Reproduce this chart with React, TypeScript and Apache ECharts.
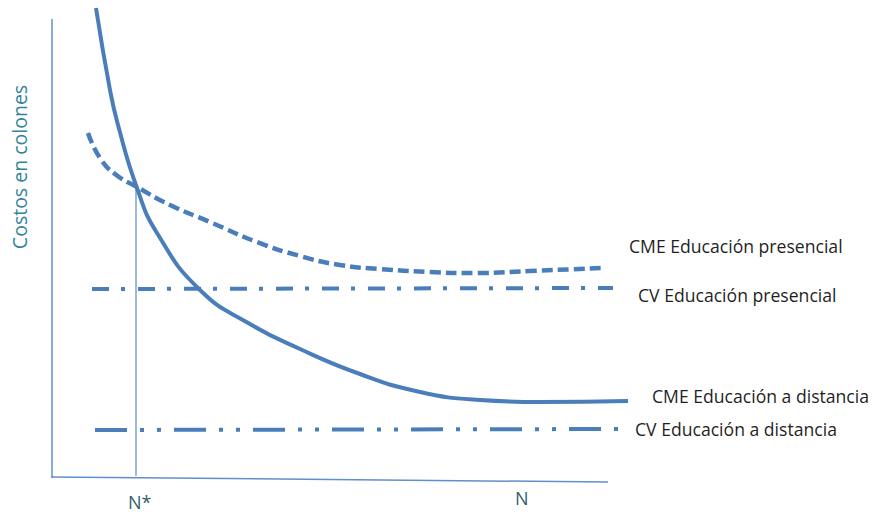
import React, { useEffect, useRef } from "react";
import * as echarts from "echarts";

// Coordinates: N along the horizontal axis, cost along the vertical axis (arbitrary units)
const cmeDistancia: [number, number][] = [
  [44, 471], [58, 389], [66, 354], [85, 291], [105, 246], [148, 189],
  [198, 155], [248, 130], [308, 105], [368, 87], [428, 79], [488, 77], [576, 78],
];
const cmePresencial: [number, number][] = [
  [36, 346], [48, 321], [63, 305], [85, 292], [118, 274], [158, 257],
  [205, 237], [248, 223], [288, 214], [328, 210], [378, 207], [425, 206],
  [478, 208], [550, 211],
];
const cvPresencial: [number, number][] = [[40, 190], [561, 191]];
const cvDistancia: [number, number][] = [[43, 49], [566, 50]];
const nStarLine: [number, number][] = [[84, 291], [84, 3]];
const yAxisLine: [number, number][] = [[0, 460], [0, 1]];
const xAxisLine: [number, number][] = [[-6, 2], [556, -3]];

const labels = [
  "CME Educación presencial",
  "CV Educación presencial",
  "CME Educación a distancia",
  "CV Educación a distancia",
];
const axisTitle = "Costos en colones";
const tickLabels = ["N*", "N"];

const BLUE = "#4a7ebb";
const AXIS = "#5f8fd0";
const FONT = "Open Sans";
const LABEL_FONT = `17.6px '${FONT}'`;

export default function App() {
  const ref = useRef<HTMLDivElement>(null);
  useEffect(() => {
    if (!ref.current) return;
    const chart = echarts.init(ref.current, undefined, { renderer: "svg" });
    const line = (data: [number, number][], width: number, type: any, color = BLUE, smooth: any = false) => ({
      type: "line",
      data,
      smooth,
      symbol: "none",
      clip: false,
      silent: true,
      lineStyle: { width, type, color, cap: "butt" },
    });
    const lbl = (left: number, y: number, text: string) => ({
      type: "text", left, top: y - 11,
      style: { text, font: LABEL_FONT, fill: "#1f1f1f" },
    });
    chart.setOption({
      animation: false,
      grid: { left: 52, right: 236, top: 4, bottom: 34 },
      xAxis: { type: "value", min: 0, max: 588, show: false },
      yAxis: { type: "value", min: 0, max: 475, show: false },
      series: [
        line(yAxisLine, 1.5, "solid", AXIS),
        line(xAxisLine, 1.5, "solid", AXIS),
        line(nStarLine, 1.5, "solid", "#7ba3d8"),
        line(cvPresencial, 4, [17, 12, 4, 13]),
        line(cvDistancia, 4, [32, 13, 4, 13, 4, 13]),
        line(cmePresencial, 4.5, [11, 5], BLUE, 0.5),
        line(cmeDistancia, 4, "solid", BLUE, 0.5),
      ],
      graphic: [
        lbl(629, 248, labels[0]),
        lbl(638, 297, labels[1]),
        lbl(652, 398, labels[2]),
        lbl(635, 431, labels[3]),
        { type: "text", left: 128, top: 493, style: { text: tickLabels[0], font: `18px '${FONT}'`, fill: "#2f5e6c" } },
        { type: "text", left: 515, top: 489, style: { text: tickLabels[1], font: `18px '${FONT}'`, fill: "#2f5e6c" } },
        {
          type: "text", x: 19, y: 167, rotation: Math.PI / 2,
          style: { text: axisTitle, font: `19.5px '${FONT}'`, fill: "#31849b", align: "center", verticalAlign: "middle" },
        },
      ],
    });
    return () => chart.dispose();
  }, []);
  return <div ref={ref} style={{ position: "fixed", left: 0, top: 0, width: 876, height: 513, background: "#fff" }} />;
}
